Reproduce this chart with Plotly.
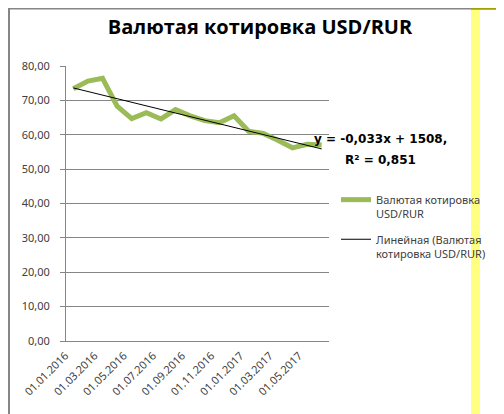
import numpy as np
import plotly.graph_objects as go

# ---- data ----
months = ["01.01.2016", "01.02.2016", "01.03.2016", "01.04.2016", "01.05.2016", "01.06.2016",
          "01.07.2016", "01.08.2016", "01.09.2016", "01.10.2016", "01.11.2016", "01.12.2016",
          "01.01.2017", "01.02.2017", "01.03.2017", "01.04.2017", "01.05.2017", "01.06.2017"]
usd_rur = [73.4, 75.6, 76.4, 68.3, 64.7, 66.4, 64.6, 67.3, 65.5, 64.1, 63.5, 65.5,
           61.0, 60.4, 58.4, 56.2, 57.2, 57.0]
tick_labels = months[::2]
y_ticks = [0, 10, 20, 30, 40, 50, 60, 70, 80]

series_name = "Валютая котировка<br>USD/RUR"
trend_name = "Линейная (Валютая<br>котировка USD/RUR)"
title_text = "Валютая котировка USD/RUR"
eq_line1 = "y = -0,033x + 1508,"
eq_line2 = "R² = 0,851"

# linear trend (least squares, like Excel's trendline)
idx = np.arange(len(usd_rur))
slope, intercept = np.polyfit(idx, usd_rur, 1)
trend = list(slope * idx + intercept)

W, H = 504, 414
ML, MR, MT, MB = 58, 183, 58, 81
PW, PH = W - ML - MR, H - MT - MB


def px_x(px):
    return (px - ML) / PW


def px_y(py):
    return (H - MB - py) / PH


fig = go.Figure()
fig.add_trace(go.Scatter(x=months, y=usd_rur, mode="lines", name=series_name,
                         legendgroup="a",
                         line=dict(color="#9bbb59", width=5)))
fig.add_trace(go.Scatter(x=months, y=trend, mode="lines", name=trend_name,
                         legendgroup="b",
                         line=dict(color="#000000", width=1)))

fig.update_layout(
    width=W, height=H,
    margin=dict(l=ML, r=MR, t=MT, b=MB),
    paper_bgcolor="white", plot_bgcolor="white",
    separators=", ",
    title=dict(text="<b>" + title_text + "</b>", x=0.5, xref="container", xanchor="center",
               y=1 - 19 / H, yref="container", yanchor="middle",
               font=dict(family="Open Sans", size=20, color="#000000")),
    xaxis=dict(type="category", range=[-0.5, len(months) - 0.5],
               tickmode="array", tickvals=tick_labels, ticktext=tick_labels,
               tickangle=-45, showgrid=False, showline=True, linecolor="#868686", linewidth=1,
               ticks="", ticklabelshift=-8, ticklabelstandoff=3,
               tickfont=dict(family="Noto Sans", size=11, color="#404040")),
    yaxis=dict(range=[0, 80], tickmode="array", tickvals=y_ticks, tickformat=".2f",
               showgrid=True, gridcolor="#868686", gridwidth=1,
               showline=True, linecolor="#868686", linewidth=1,
               ticks="outside", ticklen=5, tickcolor="#868686",
               ticklabelstandoff=8,
               tickfont=dict(family="Noto Sans", size=11, color="#404040"),
               zeroline=False),
    legend=dict(x=px_x(328), y=px_y(178), xanchor="left", yanchor="top",
                valign="top", bgcolor="rgba(0,0,0,0)",
                font=dict(family="Noto Sans", size=11, color="#404040"),
                tracegroupgap=8),
    showlegend=True,
)

fig.add_annotation(text="<b>" + eq_line1 + "</b>", xref="paper", yref="paper",
                   x=px_x(372), y=px_y(131), xanchor="center", yanchor="middle",
                   showarrow=False, font=dict(family="DejaVu Sans", size=12, color="#000000"))
fig.add_annotation(text="<b>" + eq_line2 + "</b>", xref="paper", yref="paper",
                   x=px_x(372), y=px_y(152), xanchor="center", yanchor="middle",
                   showarrow=False, font=dict(family="DejaVu Sans", size=12, color="#000000"))

# decorative: yellow band, outer border
fig.add_shape(type="rect", xref="paper", yref="paper",
              x0=px_x(463), x1=px_x(472), y0=px_y(414), y1=px_y(0),
              fillcolor="#ffff80", line=dict(width=0), layer="below")
fig.add_shape(type="rect", xref="paper", yref="paper",
              x0=px_x(1), x1=px_x(502.5), y0=px_y(411.5), y1=px_y(0.5),
              line=dict(color="#868686", width=2), fillcolor="rgba(0,0,0,0)", layer="above")
fig.add_shape(type="line", xref="paper", yref="paper",
              x0=px_x(463), x1=px_x(495), y0=px_y(0.5), y1=px_y(0.5),
              line=dict(color="#a0a000", width=2), layer="above")

fig.write_html("out.html")
